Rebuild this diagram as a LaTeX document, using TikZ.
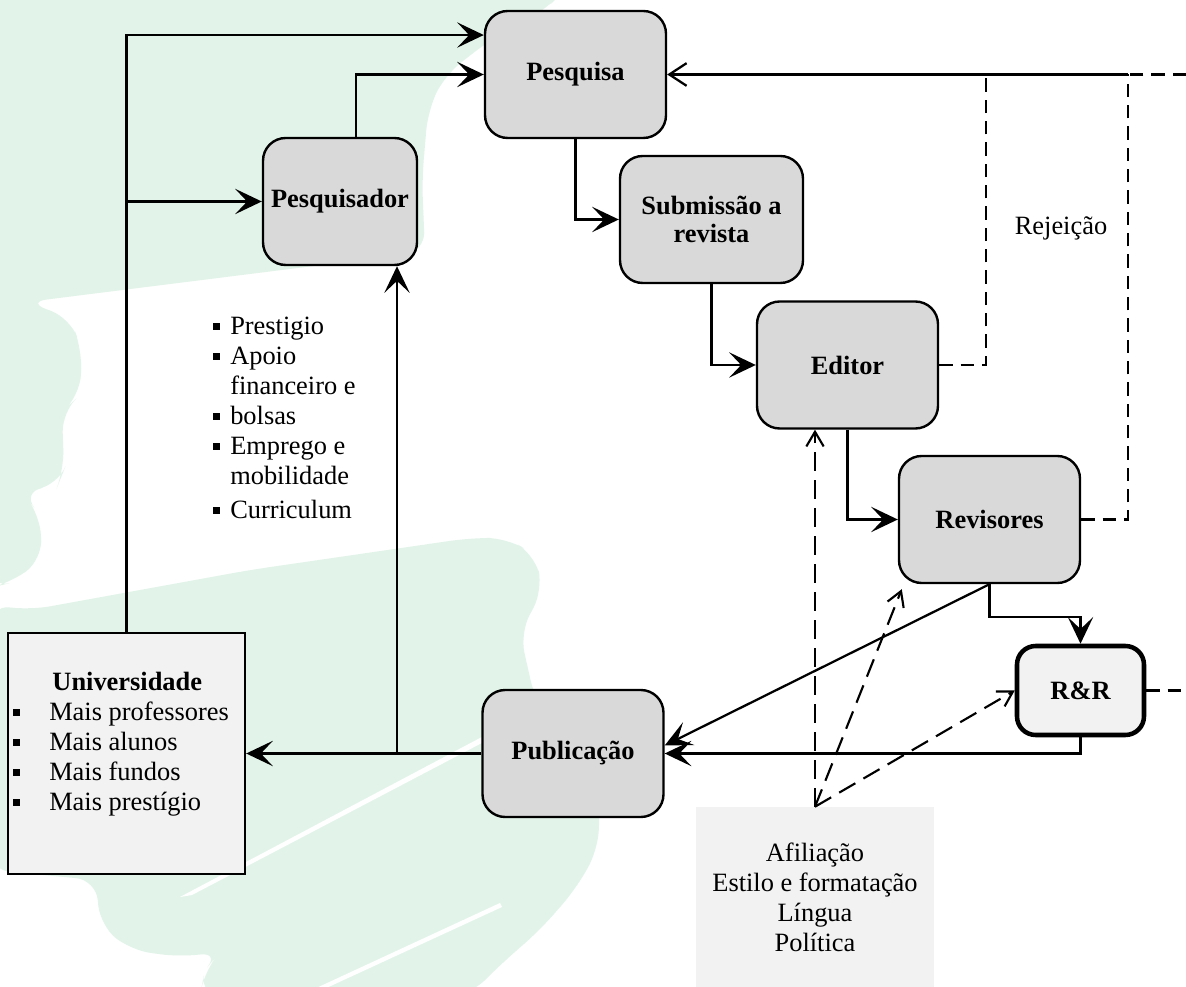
\documentclass[tikz,border=0pt]{standalone}
\usepackage{fontspec}
\setmainfont{Liberation Serif}
\usetikzlibrary{arrows.meta}
\definecolor{verdefundo}{HTML}{E2F4EA}
\definecolor{cinzacaixa}{HTML}{D9D9D9}
\definecolor{cinzaclaro}{HTML}{F2F2F2}
\newcommand{\marcador}{\rule[3.75pt]{5.25pt}{5.25pt}}

\begin{document}
\begin{tikzpicture}[x=0.75pt, y=-0.75pt,
        every node/.style={font=\fontsize{19.8}{22.5}\selectfont, inner sep=0pt},
        caixa/.style={draw, line width=1.8pt, fill=cinzacaixa, rounded corners=17pt,
            minimum width=135.75pt, minimum height=95.25pt, align=center,
            font=\fontsize{19.8}{21}\selectfont\bfseries},
        seta/.style={line width=1.7pt, -{Stealth[length=20pt, width=19pt, inset=9pt]}},
        aberta/.style={line width=1.7pt, -{Straight Barb[length=13pt, width=17pt]}},
        rejeicao/.style={line width=1.7pt, dash pattern=on 10pt off 6pt},
        influencia/.style={line width=1.6pt, dash pattern=on 14pt off 7pt,
            -{Straight Barb[length=11pt, width=13pt]}}]

    \fill[white] (0,0) rectangle (1186,987);
    \useasboundingbox (0,0) rectangle (1186,987);

    % fundo
    \fill[verdefundo, rounded corners=15pt] (-10,-10) -- (565,-10) -- (545,10) -- (490,40)
        -- (445,75) -- (428,110) -- (422,180) -- (425,252) -- (27,302) -- (70,318) -- (82,350)
        -- (80,395) -- (62,412) -- (64,470) -- (58,485) -- (22,492) -- (40,515) -- (42,560)
        -- (10,583) -- (-10,588) -- cycle;
    \fill[verdefundo, rounded corners=15pt] (-10,605) -- (30,610) -- (250,570) -- (470,538)
        -- (507,538) -- (535,555) -- (543,590) -- (520,633) -- (535,700) -- (600,800)
        -- (598,850) -- (575,890) -- (540,930) -- (500,965) -- (470,995) -- (200,995)
        -- (205,970) -- (220,952) -- (180,957) -- (130,950) -- (100,925) -- (96,880)
        -- (-10,870) -- cycle;
    \fill[white] (180,897) -- (497,729) -- (499,734) -- (192,895) -- cycle;
    \fill[white] (500,903) -- (312,990) -- (322,990) -- (502,907) -- cycle;

    \node[caixa] (pesq) at (575.5,74.5) {Pesquisa};
    \node[caixa, minimum width=115.5pt] (pesqr) at (340,201.5) {Pesquisador};
    \node[caixa, minimum width=137.25pt] (subm) at (711.5,219.5) {Submissão a\\revista};
    \node[caixa] (editor) at (847.5,365) {Editor};
    \node[caixa] (revis) at (989.5,519.5) {Revisores};
    \node[caixa, fill=cinzaclaro, line width=3.4pt, rounded corners=14pt,
        minimum width=95.25pt, minimum height=66.75pt] (rr) at (1080.5,690.5) {R\&R};
    \node[caixa] (publ) at (573,753.5) {Publicação};
    \node[draw, line width=1.8pt, fill=cinzaclaro, minimum width=177.75pt,
        minimum height=180.75pt] (univ) at (126.5,753.5) {};
    \node[fill=cinzaclaro, minimum width=178.5pt, minimum height=135pt, align=center]
        (fatores) at (815,897) {Afiliação\\Estilo e formatação\\Língua\\Política};

    \node[anchor=north west, align=left] (beneficios) at (213,317)
        {\marcador\hspace{7.5pt}Prestigio\\ \marcador\hspace{7.5pt}Apoio\\
         \hspace{12.75pt}financeiro e\\ \marcador\hspace{7.5pt}bolsas\\
         \marcador\hspace{7.5pt}Emprego e\\ \hspace{12.75pt}mobilidade\\[3pt]
         \marcador\hspace{7.5pt}Curriculum};
    \node[anchor=north west, align=left] (univtxt) at (13,672)
        {\makebox[171pt]{\bfseries Universidade}\\
         \marcador\hspace{21.75pt}Mais professores\\ \marcador\hspace{21.75pt}Mais alunos\\
         \marcador\hspace{21.75pt}Mais fundos\\ \marcador\hspace{21.75pt}Mais prestígio};
    \node (rotrej) at (1061,228) {Rejeição};

    \coordinate (rej1) at (986,74.5);
    \coordinate (rej2) at (1128,74.5);
    \coordinate (fora) at (1186,74.5);

    \draw[seta] (univ.north) |- ([yshift=29.6pt]pesq.west);
    \draw[seta] (univ.north |- pesqr.west) -- (pesqr.west);
    \draw[seta] ([xshift=12pt]pesqr.north) |- (pesq.west);
    \draw[seta] (pesq.south) |- (subm.west);
    \draw[seta] (subm.south) |- (editor.west);
    \draw[seta] (editor.south) |- (revis.west);
    \draw[seta] (revis.south) -- ++(0,33) -| (rr.north);
    \draw[seta] (rr.south) |- (publ.east);
    \draw[seta] (revis.south) -- ([yshift=6pt]publ.east);
    \draw[seta] (publ.west) -- (univ.east);
    \draw[seta] ([xshift=42.75pt]pesqr.south |- publ.west) -- ([xshift=42.75pt]pesqr.south);

    \draw[rejeicao] (editor.east) -| (rej1);
    \draw[rejeicao] (revis.east) -| (rej2);
    \draw[rejeicao] (fora) -- (rej2);
    \draw[aberta] (rej2) -- (pesq.east);
    \draw[rejeicao] (rr.east) -- (rr.east -| fora);

    \draw[influencia] (fatores.north) -- (fatores.north |- editor.south);
    \draw[influencia] (fatores.north) -- ([shift={(4,5)}]revis.south west);
    \draw[influencia] (fatores.north) -- (rr.west);
\end{tikzpicture}
\end{document}
